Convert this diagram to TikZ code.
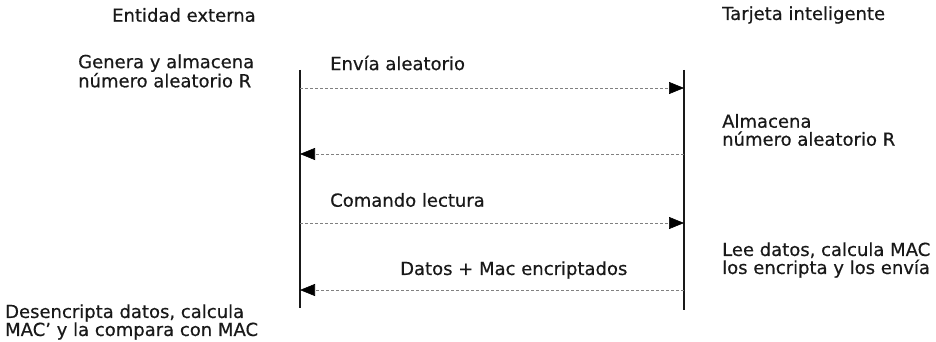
\documentclass[tikz,border=0pt]{standalone}
\usepackage{fontspec}
\setmainfont[FakeBold=0.5]{DejaVu Sans}
\usetikzlibrary{arrows.meta,positioning}

\begin{document}
\begin{tikzpicture}[x=1pt,y=-1pt,
		txt/.style={anchor=west,inner sep=0pt,align=left,text=black!90,font=\fontsize{18}{18}\selectfont},
		vida/.style={line width=1.4pt,black!90},
		msg/.style={densely dashed,gray,line width=0.6pt,-{Triangle[black,length=15pt,width=12pt]}}]
		
		\useasboundingbox (0,0) rectangle (936,342);
		
		\node[txt] (ent) at (112,15) {Entidad externa};
		\node[txt] (tar) at (722,15) {Tarjeta inteligente};
		
		\coordinate (entTop) at (300,70);
		\coordinate (entBot) at (300,308);
		\coordinate (tarTop) at (684,70);
		\coordinate (tarBot) at (684,310);
		
		\draw[vida] (entTop)--(entBot);
		\draw[vida] (tarTop)--(tarBot);
		
		\coordinate (e1) at (300,88);
		\coordinate (t1) at (684,88);
		\coordinate (e2) at (300,154);
		\coordinate (t2) at (684,154);
		\coordinate (e3) at (300,223);
		\coordinate (t3) at (684,223);
		\coordinate (e4) at (300,290);
		\coordinate (t4) at (684,290);
		
		\draw[msg] (e1)--(t1);
		\draw[msg] (t2)--(e2);
		\draw[msg] (e3)--(t3);
		\draw[msg] (t4)--(e4);
		
		\node[txt] (genera) at (78,71) {Genera y almacena\\número aleatorio R};
		\node[txt] (envia) at (330,63) {Envía aleatorio};
		\node[txt] (almacena) at (722,130) {Almacena\\número aleatorio R};
		\node[txt] (comando) at (330,200) {Comando lectura};
		\node[txt] (lee) at (722,260) {Lee datos, calcula MAC\\los encripta y los envía};
		\node[txt] (datos) at (400,270) {Datos + Mac encriptados};
		\node[txt] (desenc) at (5,322) {Desencripta datos, calcula\\MAC' y la compara con MAC};
		
	\end{tikzpicture}
\end{document}
